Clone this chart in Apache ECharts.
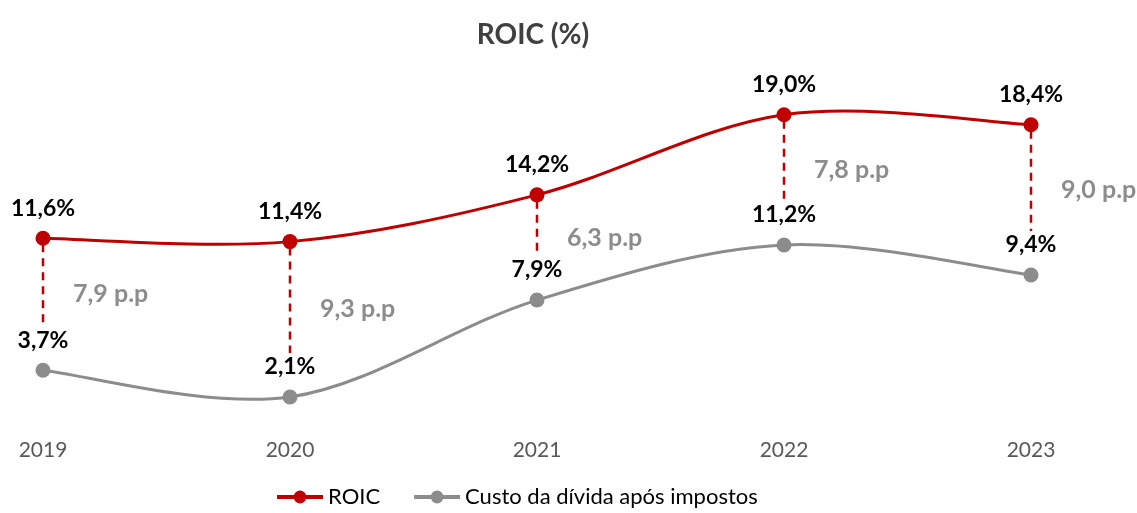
<!DOCTYPE html>
<html>
<head>
<meta charset="utf-8">
<script src="https://cdn.jsdelivr.net/npm/echarts@6/dist/echarts.min.js"></script>
<style>
  html, body { margin: 0; padding: 0; background: #fff; }
  #main { width: 1137px; height: 513px; }
</style>
</head>
<body>
<div id="main"></div>
<script>
// anos
var years = ["2019", "2020", "2021", "2022", "2023"];
// ROIC (%)
var roic = [11.6, 11.4, 14.2, 19.0, 18.4];
// custo da dívida após impostos (%)
var custo = [3.7, 2.1, 7.9, 11.2, 9.4];

var RED = "#C00000";
var GRAY = "#8C8C8C";
var FONT = "Lato";

function fmt(v) {
  return v.toFixed(1).replace(".", ",");
}

// diferença ROIC - custo, em p.p
var gapData = years.map(function (y, i) {
  return [i, roic[i], custo[i]];
});

// segmentos da curva suavizada (estilo Excel): [i, anterior, atual, próximo, seguinte]
function segments(vals) {
  var out = [];
  for (var i = 0; i < vals.length - 1; i++) {
    out.push([
      i,
      vals[Math.max(i - 1, 0)],
      vals[i],
      vals[i + 1],
      vals[Math.min(i + 2, vals.length - 1)]
    ]);
  }
  return out;
}

function smoothSegment(color) {
  return function (params, api) {
    var i = api.value(0);
    var n = years.length - 1;
    var p0 = api.coord([Math.max(i - 1, 0), api.value(1)]);
    var p1 = api.coord([i, api.value(2)]);
    var p2 = api.coord([i + 1, api.value(3)]);
    var p3 = api.coord([Math.min(i + 2, n), api.value(4)]);
    var c1 = [p1[0] + (p2[0] - p0[0]) / 6, p1[1] + (p2[1] - p0[1]) / 6];
    var c2 = [p2[0] - (p3[0] - p1[0]) / 6, p2[1] - (p3[1] - p1[1]) / 6];
    return {
      type: "bezierCurve",
      shape: {
        x1: p1[0], y1: p1[1],
        cpx1: c1[0], cpy1: c1[1],
        cpx2: c2[0], cpy2: c2[1],
        x2: p2[0], y2: p2[1]
      },
      style: { stroke: color, lineWidth: 3, fill: null }
    };
  };
}

var labelStyle = {
  show: true,
  position: "top",
  distance: 11,
  formatter: function (p) { return fmt(p.value) + "%"; },
  fontFamily: FONT,
  fontSize: 23,
  fontWeight: "bold",
  color: "#000"
};

var chart = echarts.init(document.getElementById("main"));

chart.setOption({
  animation: false,
  title: {
    text: "ROIC (%)",
    left: 528,
    top: 16,
    textAlign: "center",
    textStyle: { fontFamily: FONT, fontSize: 28, fontWeight: "bold", color: "#404040" }
  },
  legend: {
    bottom: 0,
    left: 270,
    itemWidth: 46,
    itemHeight: 16,
    itemGap: 32,
    textStyle: { fontFamily: FONT, fontSize: 22, color: "#000" },
    data: [
      { name: "ROIC", lineStyle: { color: RED, width: 4, opacity: 1 } },
      { name: "Custo da dívida após impostos", lineStyle: { color: GRAY, width: 4, opacity: 1 } }
    ]
  },
  grid: { left: 43, right: 106, top: 98, bottom: 81 },
  xAxis: {
    type: "category",
    boundaryGap: false,
    data: years,
    axisLine: { show: false },
    axisTick: { show: false },
    axisLabel: { fontFamily: FONT, fontSize: 21, color: "#595959", margin: 8 }
  },
  yAxis: {
    type: "value",
    min: 0,
    max: 20,
    show: false,
    splitLine: { show: false }
  },
  series: [
    {
      // linhas tracejadas e rótulos de p.p
      type: "custom",
      z: 1,
      silent: true,
      data: gapData,
      renderItem: function (params, api) {
        var i = api.value(0);
        var top = api.coord([i, api.value(1)]);
        var bot = api.coord([i, api.value(2)]);
        var gap = api.value(1) - api.value(2);
        return {
          type: "group",
          children: [
            {
              type: "line",
              shape: { x1: top[0], y1: top[1] + 6, x2: top[0], y2: bot[1] - 44 },
              style: { stroke: RED, lineWidth: 2.5, lineDash: [8, 6] }
            },
            {
              type: "text",
              x: top[0] + 30,
              y: (top[1] + bot[1]) / 2 - 10,
              style: {
                text: fmt(gap) + " p.p",
                fill: GRAY,
                font: "bold 25px " + FONT,
                verticalAlign: "middle",
                align: "left"
              }
            }
          ]
        };
      }
    },
    {
      type: "custom",
      z: 2,
      silent: true,
      data: segments(roic),
      renderItem: smoothSegment(RED)
    },
    {
      type: "custom",
      z: 2,
      silent: true,
      data: segments(custo),
      renderItem: smoothSegment(GRAY)
    },
    {
      name: "ROIC",
      type: "line",
      z: 3,
      data: roic,
      symbol: "circle",
      symbolSize: 15,
      lineStyle: { color: RED, width: 3, opacity: 0 },
      itemStyle: { color: RED },
      label: labelStyle
    },
    {
      name: "Custo da dívida após impostos",
      type: "line",
      z: 3,
      data: custo,
      symbol: "circle",
      symbolSize: 15,
      lineStyle: { color: GRAY, width: 3, opacity: 0 },
      itemStyle: { color: GRAY },
      label: labelStyle
    }
  ]
});
</script>
</body>
</html>
